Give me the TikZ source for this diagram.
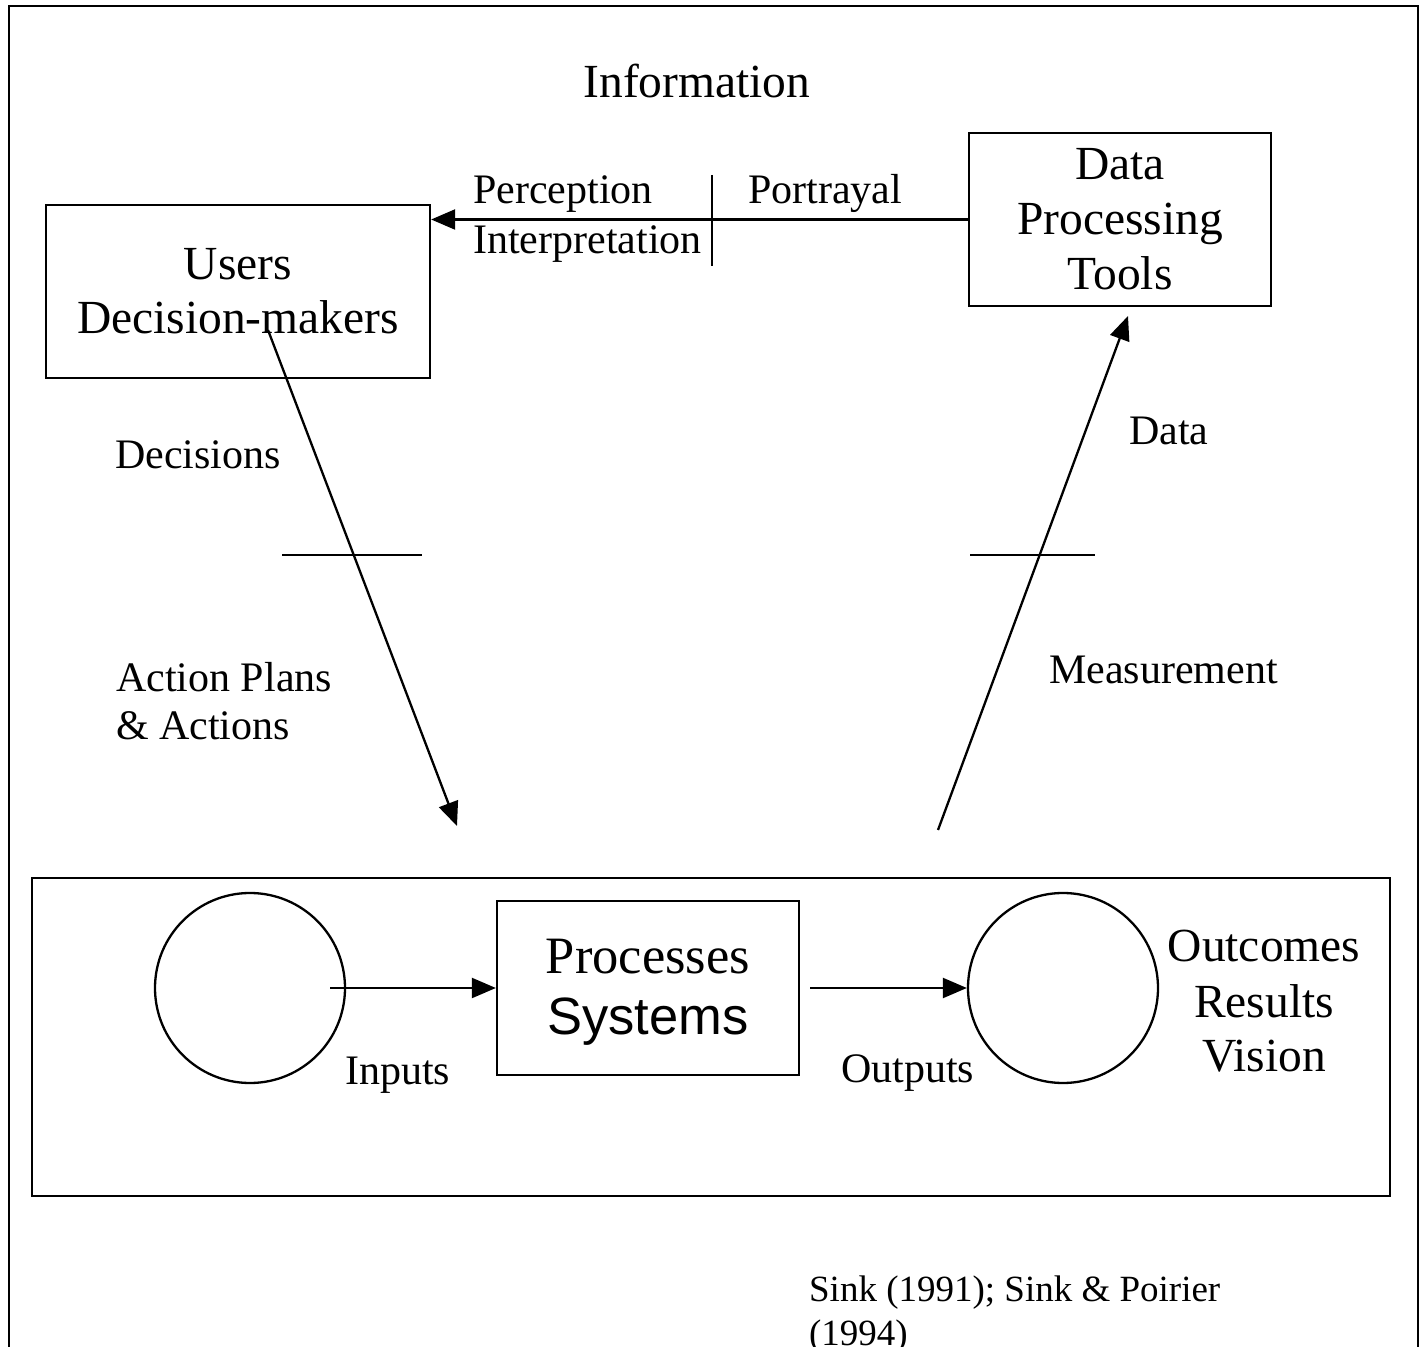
\documentclass[tikz,border=0pt]{standalone}
\usepackage{fontspec}
\setmainfont{Liberation Serif}
\newfontfamily\arialf{Liberation Sans}
\usetikzlibrary{arrows.meta}
\begin{document}
\begin{tikzpicture}[x=0.5pt,y=-0.5pt, line width=1.15pt,
  box/.style={draw, rectangle, inner sep=0pt, align=center},
  ring/.style={draw, circle, inner sep=0pt, minimum size=95pt},
  lbl/.style={anchor=base west, inner sep=0pt, font=\fontsize{21}{24}\selectfont},
  bigl/.style={anchor=base, inner sep=0pt, font=\fontsize{23.75}{27}\selectfont},
  arr/.style={-{Triangle[length=12pt,width=10pt]}}]
\useasboundingbox (0,0) rectangle (1426,1347);
\fill[white] (0,0) rectangle (1426,1347);
% outer frame (open at the bottom)
\draw (9,1360) -- (9,6) -- (1418,6) -- (1418,1360);

\node[bigl] (info) at (697,98) {Information};

\node[box, minimum width=192pt, minimum height=86.5pt, font=\fontsize{23.75}{27}\selectfont] (users) at (238,291.5) {Users\\Decision-makers};
\node[box, minimum width=151pt, minimum height=86.5pt, font=\fontsize{23.75}{27.5}\selectfont] (dpt) at (1120,219.5) {Data\\Processing\\Tools};

\draw[arr] (dpt.west) -- (users.east |- dpt.west);
\coordinate (tickA) at (712,175);
\coordinate (tickB) at (712,266);
\draw (tickA) -- (tickB);
\node[lbl] (perc) at (472,204) {Perception};
\node[lbl] (interp) at (472,254) {Interpretation};
\node[lbl] (portr) at (747,204) {Portrayal};

% left descending arrow
\coordinate (dS) at (268,330);
\coordinate (dE) at (457,826);
\draw[arr] (dS) -- (dE);
\coordinate (lt1) at (282,555);
\coordinate (lt2) at (422,555);
\draw (lt1) -- (lt2);
\node[lbl] (dec) at (114,469) {Decisions};
\node[lbl] (ap1) at (115,692) {Action Plans};
\node[lbl] (ap2) at (115,740) {\& Actions};

% right ascending arrow
\coordinate (mS) at (938,830);
\coordinate (mE) at (1128,316);
\draw[arr] (mS) -- (mE);
\coordinate (rt1) at (970,555);
\coordinate (rt2) at (1095,555);
\draw (rt1) -- (rt2);
\node[lbl] (data) at (1128,445) {Data};
\node[lbl] (meas) at (1048,684) {Measurement};

% system box
\node[draw, rectangle, inner sep=0pt, minimum width=679pt, minimum height=159pt] (sys) at (711,1037) {};
\node[ring] (cin) at (250,988) {};
\node[ring] (cout) at (1063,988) {};
\node[box, minimum width=151pt, minimum height=87pt] (procs) at (648,988) {};
\node[anchor=base, inner sep=0pt, font=\fontsize{26.25}{30}\selectfont] (procT) at (648,974) {Processes};
\node[anchor=base, inner sep=0pt, font=\fontsize{26.25}{30}\arialf] (sysT) at (648,1035) {Systems};
\coordinate (inS) at (330,988);
\draw[arr] (inS) -- (procs.west);
\coordinate (outS) at (810,988);
\draw[arr] (outS) -- (cout.west);
\node[lbl] (inp) at (344,1084) {Inputs};
\node[lbl] (outp) at (840,1082) {Outputs};
\node[bigl] (oc1) at (1264,962) {Outcomes};
\node[bigl] (oc2) at (1264,1017) {Results};
\node[bigl] (oc3) at (1264,1072) {Vision};

% citation (cut off at the bottom, as in the original)
\node[anchor=base west, inner sep=0pt, font=\fontsize{18.5}{21}\selectfont] (cite1) at (808,1301) {Sink (1991); Sink \& Poirier};
\node[anchor=base west, inner sep=0pt, font=\fontsize{18.5}{21}\selectfont] (cite2) at (808,1345) {(1994)};
\end{tikzpicture}
\end{document}
